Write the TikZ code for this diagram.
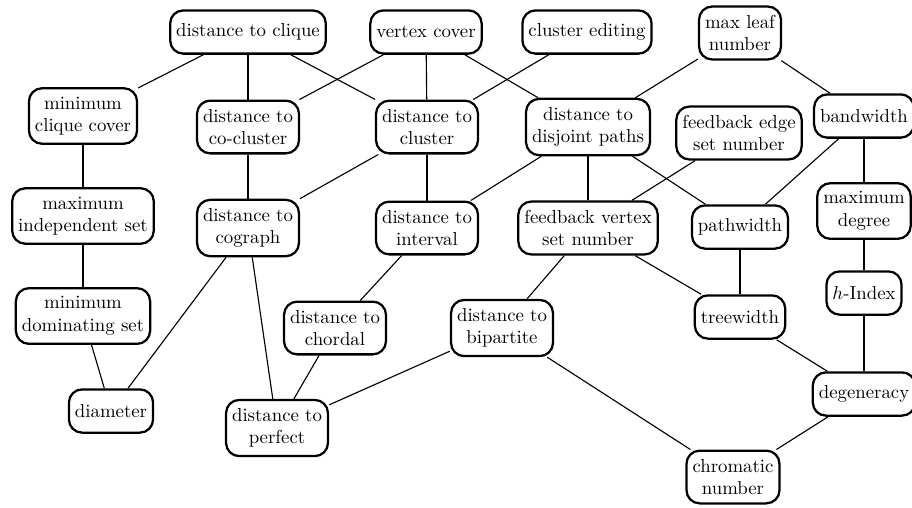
\documentclass[tikz,border=0pt]{standalone}
\usepackage{amsmath}
\usepackage{tikz}

\begin{document}
\begin{tikzpicture}[
  x=0.532pt, y=-0.532pt,
  every node/.style={anchor=center},
  param/.style={draw=black, line width=1.2pt, rounded corners=7pt, fill=white,
    align=center, inner xsep=3.2pt, inner ysep=4.5pt, minimum height=23pt},
  rel/.style={line width=0.6pt, draw=black}
]
  \useasboundingbox (0,0) rectangle (912,507);
  % ----- top row -----
  \node[param] (clique) at (248,32) {distance to clique};
  \node[param] (vc) at (426,32) {vertex cover};
  \node[param] (clusted) at (587,32) {cluster editing};
  \node[param] (maxleaf) at (740,33) {max leaf\\number};
  % ----- second row -----
  \node[param] (mcc) at (83,116) {minimum\\clique cover};
  \node[param] (cocluster) at (248,127) {distance to\\co-cluster};
  \node[param] (cluster) at (427,127) {distance to\\cluster};
  \node[param] (djpaths) at (588,127) {distance to\\disjoint paths};
  \node[param] (fes) at (739,133) {feedback edge\\set number};
  \node[param] (bw) at (864,116) {bandwidth};
  % ----- third row -----
  \node[param] (mis) at (83,216) {maximum\\independent set};
  \node[param] (cograph) at (248,228) {distance to\\cograph};
  \node[param] (interval) at (427,228) {distance to\\interval};
  \node[param] (fvs) at (588,228) {feedback vertex\\set number};
  \node[param] (pw) at (740,227) {pathwidth};
  \node[param] (maxdeg) at (864,211) {maximum\\degree};
  % ----- fourth row -----
  \node[param] (mds) at (83,316) {minimum\\dominating set};
  \node[param] (chordal) at (335,328) {distance to\\chordal};
  \node[param] (bip) at (502,328) {distance to\\bipartite};
  \node[param] (tw) at (740,317) {treewidth};
  \node[param] (hindex) at (864,293) {$h$-Index};
  % ----- bottom rows -----
  \node[param] (diam) at (111,411) {diameter};
  \node[param] (perfect) at (277,428) {distance to\\perfect};
  \node[param] (degen) at (864,394) {degeneracy};
  \node[param] (chrom) at (733,477) {chromatic\\number};
  % ----- from the top row -----
  \draw[rel] (clique) -- (mcc);
  \draw[rel] (clique) -- (cocluster);
  \draw[rel] (clique) -- (cluster);
  \draw[rel] (vc) -- (cocluster);
  \draw[rel] (vc) -- (cluster);
  \draw[rel] (vc) -- (djpaths);
  \draw[rel] (clusted) -- (cluster);
  \draw[rel] (maxleaf) -- (djpaths);
  \draw[rel] (maxleaf) -- (bw);
  % ----- from the second row -----
  \draw[rel] (mcc) -- (mis);
  \draw[rel] (cocluster) -- (cograph);
  \draw[rel] (cluster) -- (cograph);
  \draw[rel] (cluster) -- (interval);
  \draw[rel] (djpaths) -- (interval);
  \draw[rel] (djpaths) -- (fvs);
  \draw[rel] (djpaths) -- (pw);
  \draw[rel] (fes) -- (fvs);
  \draw[rel] (bw) -- (pw);
  \draw[rel] (bw) -- (maxdeg);
  % ----- from the third row -----
  \draw[rel] (mis) -- (mds);
  \draw[rel] (cograph) -- (diam);
  \draw[rel] (cograph) -- (perfect);
  \draw[rel] (interval) -- (chordal);
  \draw[rel] (fvs) -- (bip);
  \draw[rel] (fvs) -- (tw);
  \draw[rel] (pw) -- (tw);
  \draw[rel] (maxdeg) -- (hindex);
  % ----- lower part -----
  \draw[rel] (mds) -- (diam);
  \draw[rel] (chordal) -- (perfect);
  \draw[rel] (bip) -- (perfect);
  \draw[rel] (bip) -- (chrom);
  \draw[rel] (tw) -- (degen);
  \draw[rel] (hindex) -- (degen);
  \draw[rel] (degen) -- (chrom);
\end{tikzpicture}
\end{document}
